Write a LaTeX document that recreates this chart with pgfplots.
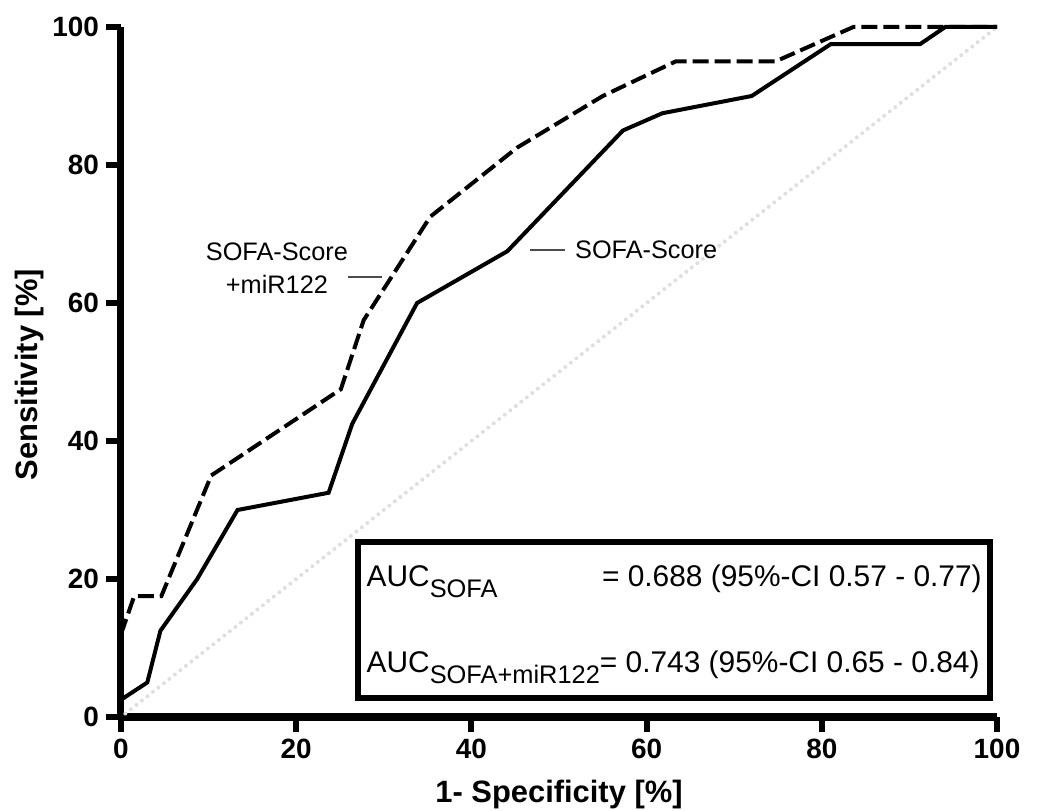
\documentclass[border=0pt]{standalone}
\usepackage{fontspec}
\setmainfont{Liberation Sans}
\usepackage{pgfplots}
\pgfplotsset{compat=1.18}

\newcommand\sub[1]{\raisebox{-0.36em}{\fontsize{12.75}{12.75}\selectfont #1}}

\begin{document}
\begin{tikzpicture}
\useasboundingbox (-60.5bp,-47bp) rectangle (458.5bp,358.5bp);
\begin{axis}[
    scale only axis,
    width=438bp, height=345bp,
    xmin=0, xmax=100,
    ymin=0, ymax=100,
    xtick={0,20,...,100},
    ytick={0,20,...,100},
    axis x line*=bottom,
    axis y line*=left,
    axis line style={line width=3.5bp},
    tick align=outside,
    major tick length=7.5bp,
    every tick/.style={line width=3bp, black},
    /pgf/number format/assume math mode=true,
    ticklabel style={font=\fontsize{14}{14}\selectfont\bfseries},
    xlabel={1- Specificity [\%]},
    ylabel={Sensitivity [\%]},
    every axis x label/.style={at={(axis description cs:0.5,-0.113)}, anchor=center,
        font=\fontsize{15.5}{15.5}\selectfont\bfseries},
    every axis y label/.style={at={(axis description cs:-0.104,0.496)}, rotate=90, anchor=center,
        font=\fontsize{15.5}{15.5}\selectfont\bfseries},
    clip=false,
]

% chance line
\addplot[gray!25, line width=2bp, line cap=round, dash pattern=on 0bp off 3.5bp]
coordinates {(0.5,0.5) (100,100)};

% SOFA-Score + miR122
\addplot[black, line width=2bp, dash pattern=on 8bp off 3bp]
coordinates {
    (0,12) (1.5,17.5) (4.6,17.5) (10.3,35) (25.1,47.5) (27.7,57.5)
    (35.3,72.5) (45.2,82.5) (55,90) (63.3,95) (74.7,95) (83.6,100) (100,100)
};

% SOFA-Score
\addplot[black, line width=2bp]
coordinates {
    (0,2.5) (3,5) (4.5,12.5) (8.7,20) (13.3,30) (23.7,32.5) (26.4,42.5)
    (33.8,60) (44.1,67.5) (57.3,85) (61.8,87.5) (72,90) (81,97.5)
    (91.2,97.5) (94.1,100) (100,100)
};

% annotations
\draw[black!70, line width=0.75bp] (axis cs:46.7,67.7) -- (axis cs:50.7,67.7);
\node[anchor=west, inner sep=0pt, font=\fontsize{12.7}{12.7}\selectfont]
    at (axis cs:51.8,67.7) {SOFA-Score};
\draw[black!70, line width=0.75bp] (axis cs:25.9,63.8) -- (axis cs:29.8,63.8);
\node[align=center, inner sep=0pt, font=\fontsize{12.7}{16.5}\selectfont]
    at (axis cs:17.8,65.0) {SOFA-Score\\+miR122};

% AUC box
\draw[black, line width=3bp] (axis cs:27.05,2.75) rectangle (axis cs:99.2,25.3);
\node[anchor=base west, inner sep=0pt, font=\fontsize{15}{15}\selectfont]
    at (axis cs:28.0,18.9) {AUC\sub{SOFA}};
\node[anchor=base east, inner sep=0pt, font=\fontsize{15}{15}\selectfont]
    at (axis cs:98.3,18.9) {= 0.688 (95\%-CI 0.57 - 0.77)};
\node[anchor=base west, inner sep=0pt, font=\fontsize{15}{15}\selectfont]
    at (axis cs:28.0,6.4) {AUC\sub{SOFA+miR122}= 0.743 (95\%-CI 0.65 - 0.84)};

\end{axis}
\end{tikzpicture}
\end{document}
